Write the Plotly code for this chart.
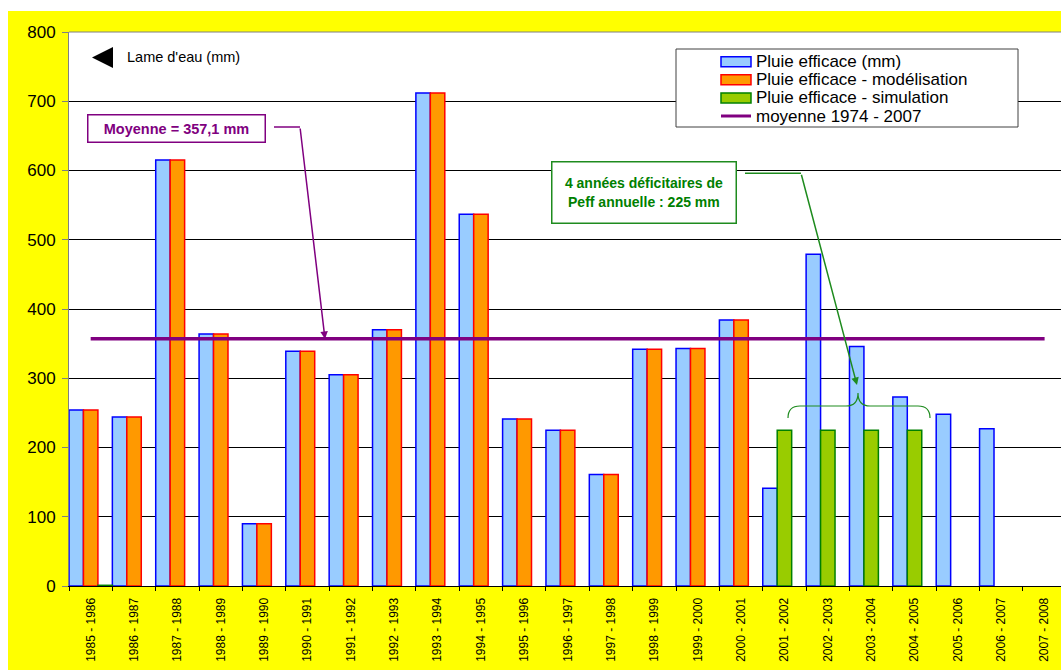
import plotly.graph_objects as go

# ---- data -------------------------------------------------------------
periodes = [
    "1985 - 1986", "1986 - 1987", "1987 - 1988", "1988 - 1989", "1989 - 1990",
    "1990 - 1991", "1991 - 1992", "1992 - 1993", "1993 - 1994", "1994 - 1995",
    "1995 - 1996", "1996 - 1997", "1997 - 1998", "1998 - 1999", "1999 - 2000",
    "2000 - 2001", "2001 - 2002", "2002 - 2003", "2003 - 2004", "2004 - 2005",
    "2005 - 2006", "2006 - 2007", "2007 - 2008",
]
pluie_efficace = [254, 244, 615, 364, 90, 339, 305, 370, 712, 537, 241, 225,
                  161, 342, 343, 384, 141, 479, 346, 273, 248, 227, None]
pluie_modelisation = [254, 244, 615, 364, 90, 339, 305, 370, 712, 537, 241, 225,
                      161, 342, 343, 384, None, None, None, None, None, None, None]
pluie_simulation = [1, None, None, None, None, None, None, None, None, None, None,
                    None, None, None, None, None, 225, 225, 225, 225, None, None, None]
moyenne_1974_2007 = 357.1

y_ticks = [0, 100, 200, 300, 400, 500, 600, 700, 800]

# ---- styles -----------------------------------------------------------
FONT = "Arial, Liberation Sans, sans-serif"
BLUE_FILL, BLUE_LINE = "#99CCFF", "#0000FF"
ORANGE_FILL, ORANGE_LINE = "#FF9900", "#FF0000"
GREEN_FILL, GREEN_LINE = "#99CC00", "#008000"
PURPLE = "#800080"
DARK_GREEN = "#1E8B1E"

# figure geometry (pixels)
FIG_W, FIG_H = 1061, 670
M_L, M_R, M_T, M_B = 69, 0, 32, 84
PLOT_W = FIG_W - M_L - M_R
PLOT_H = FIG_H - M_T - M_B
CAT_W = 43.36  # pixel width of one category

# each category holds three bar slots of a third of its width
SLOT = 1 / 3
slot_offset = [-0.5, -0.5 + SLOT, -0.5 + 2 * SLOT]
# simulated years sit in the second slot, the 1985 reference point in the third
sim_offset = [slot_offset[2] if i == 0 else slot_offset[1] for i in range(len(periodes))]


def px(x):
    """pixel column -> paper x"""
    return (x - M_L) / PLOT_W


def py(y):
    """pixel row -> paper y"""
    return (FIG_H - M_B - y) / PLOT_H


fig = go.Figure()

fig.add_trace(go.Bar(
    x=periodes, y=pluie_efficace, name="Pluie efficace (mm)",
    width=SLOT, offset=slot_offset[0],
    marker=dict(color=BLUE_FILL, line=dict(color=BLUE_LINE, width=1.5)),
))
fig.add_trace(go.Bar(
    x=periodes, y=pluie_modelisation, name="Pluie efficace - modélisation",
    width=SLOT, offset=slot_offset[1],
    marker=dict(color=ORANGE_FILL, line=dict(color=ORANGE_LINE, width=1.5)),
))
fig.add_trace(go.Bar(
    x=periodes, y=pluie_simulation, name="Pluie efficace - simulation",
    width=SLOT, offset=sim_offset,
    marker=dict(color=GREEN_FILL, line=dict(color=GREEN_LINE, width=1.5)),
))
fig.add_trace(go.Scatter(
    x=periodes, y=[moyenne_1974_2007] * len(periodes), name="moyenne 1974 - 2007",
    mode="lines", line=dict(color=PURPLE, width=3.5),
))

shapes = []
annotations = []

# page frame: white strip on top and left, yellow elsewhere
shapes.append(dict(type="rect", xref="paper", yref="paper", layer="below",
                   x0=px(0), x1=px(FIG_W), y0=py(11), y1=py(0),
                   fillcolor="white", line=dict(width=0)))
shapes.append(dict(type="rect", xref="paper", yref="paper", layer="below",
                   x0=px(0), x1=px(8), y0=py(FIG_H), y1=py(0),
                   fillcolor="white", line=dict(width=0)))

# top border of the plot area
shapes.append(dict(type="line", xref="paper", yref="paper",
                   x0=0, x1=1, y0=1, y1=1, line=dict(color="#808080", width=1)))

# axis caption with arrow marker
shapes.append(dict(type="path", xref="paper", yref="paper",
                   path=f"M {px(92)},{py(57.5)} L {px(113)},{py(47)} L {px(113)},{py(68)} Z",
                   fillcolor="black", line=dict(color="black", width=0)))
annotations.append(dict(xref="paper", yref="paper", x=px(125), y=py(57.5),
                        xanchor="left", yanchor="middle", showarrow=False,
                        text="Lame d'eau (mm)", font=dict(family=FONT, size=14.5, color="black")))

# legend box
legend_left, legend_right, legend_top, legend_bottom = 676, 1018, 49, 127
shapes.append(dict(type="rect", xref="paper", yref="paper",
                   x0=px(legend_left), x1=px(legend_right), y0=py(legend_bottom), y1=py(legend_top),
                   fillcolor="white", line=dict(color="#404040", width=1)))
legend_rows = [
    ("Pluie efficace (mm)", "bar", BLUE_FILL, BLUE_LINE),
    ("Pluie efficace - modélisation", "bar", ORANGE_FILL, ORANGE_LINE),
    ("Pluie efficace - simulation", "bar", GREEN_FILL, GREEN_LINE),
    ("moyenne 1974 - 2007", "line", PURPLE, PURPLE),
]
row_y = [61.7, 79.7, 97.9, 116.0]
for (label, kind, fill, edge), yc in zip(legend_rows, row_y):
    if kind == "bar":
        shapes.append(dict(type="rect", xref="paper", yref="paper",
                           x0=px(721), x1=px(751), y0=py(yc + 5), y1=py(yc - 5),
                           fillcolor=fill, line=dict(color=edge, width=1.5)))
    else:
        shapes.append(dict(type="line", xref="paper", yref="paper",
                           x0=px(721), x1=px(751), y0=py(yc), y1=py(yc),
                           line=dict(color=edge, width=3)))
    annotations.append(dict(xref="paper", yref="paper", x=px(754), y=py(yc),
                            xanchor="left", yanchor="middle", showarrow=False,
                            text=label, font=dict(family=FONT, size=17, color="black")))

# callout: average
annotations.append(dict(xref="paper", yref="paper", x=px(176), y=py(128.8),
                        xanchor="center", yanchor="middle", showarrow=False,
                        text="<b>Moyenne = 357,1 mm</b>",
                        font=dict(family=FONT, size=14.5, color=PURPLE),
                        bgcolor="white", bordercolor=PURPLE, borderwidth=1.5,
                        borderpad=2, width=172, height=22))
shapes.append(dict(type="line", xref="paper", yref="paper",
                   x0=px(274), x1=px(300), y0=py(127), y1=py(127),
                   line=dict(color=PURPLE, width=1.5)))
annotations.append(dict(xref="paper", yref="paper", x=px(325), y=py(339),
                        ax=300 - 325, ay=127 - 339, axref="pixel", ayref="pixel",
                        text="", showarrow=True, arrowhead=2, arrowsize=1,
                        arrowwidth=1.5, arrowcolor=PURPLE, standoff=0))

# callout: deficit years
annotations.append(dict(xref="paper", yref="paper", x=px(643.7), y=py(192.3),
                        xanchor="center", yanchor="middle", showarrow=False,
                        text="<b>4 années déficitaires de<br>Peff annuelle : 225 mm</b>",
                        font=dict(family=FONT, size=14, color="#008000"),
                        bgcolor="white", bordercolor=DARK_GREEN, borderwidth=1.5,
                        borderpad=2, width=179, height=56))
shapes.append(dict(type="line", xref="paper", yref="paper",
                   x0=px(745), x1=px(801), y0=py(173.3), y1=py(173.3),
                   line=dict(color=DARK_GREEN, width=1.5)))
annotations.append(dict(xref="paper", yref="paper", x=px(857), y=py(385),
                        ax=801 - 857, ay=173.3 - 385, axref="pixel", ayref="pixel",
                        text="", showarrow=True, arrowhead=2, arrowsize=1,
                        arrowwidth=1.5, arrowcolor=DARK_GREEN, standoff=0))

# curly brace grouping the simulated years
bx0, bx1, bxm = 788, 930, 858
b_end, b_mid, b_tip, r = 418, 406, 393, 12
brace = (f"M {px(bx0)},{py(b_end)} Q {px(bx0)},{py(b_mid)} {px(bx0 + r)},{py(b_mid)} "
         f"L {px(bxm - r)},{py(b_mid)} Q {px(bxm)},{py(b_mid)} {px(bxm)},{py(b_tip)} "
         f"Q {px(bxm)},{py(b_mid)} {px(bxm + r)},{py(b_mid)} "
         f"L {px(bx1 - r)},{py(b_mid)} Q {px(bx1)},{py(b_mid)} {px(bx1)},{py(b_end)}")
shapes.append(dict(type="path", xref="paper", yref="paper", path=brace,
                   line=dict(color=DARK_GREEN, width=1.2)))

fig.update_layout(
    width=FIG_W, height=FIG_H,
    margin=dict(l=M_L, r=M_R, t=M_T, b=M_B, pad=0),
    paper_bgcolor="#FFFF00", plot_bgcolor="white",
    barmode="overlay",
    showlegend=False,
    font=dict(family=FONT, color="black"),
    shapes=shapes, annotations=annotations,
    xaxis=dict(
        type="category", categoryorder="array", categoryarray=periodes,
        range=[-0.5, -0.5 + PLOT_W / CAT_W],
        tickson="boundaries", ticks="outside", ticklen=4, tickcolor="black",
        showline=True, linecolor="black", linewidth=1,
        tickangle=-90, tickfont=dict(family=FONT, size=12, color="black"),
        ticklabelstandoff=6,
        showgrid=False, zeroline=False, fixedrange=True,
    ),
    yaxis=dict(
        range=[0, 800], tickvals=y_ticks, ticktext=[str(v) for v in y_ticks],
        ticks="outside", ticklen=6, tickcolor="#808080",
        showline=True, linecolor="#808080", linewidth=1,
        showgrid=True, gridcolor="black", gridwidth=1,
        zeroline=False, tickfont=dict(family=FONT, size=17, color="black"),
        ticklabelstandoff=3, fixedrange=True,
    ),
)

fig.write_html("out.html", config={"displayModeBar": False})
